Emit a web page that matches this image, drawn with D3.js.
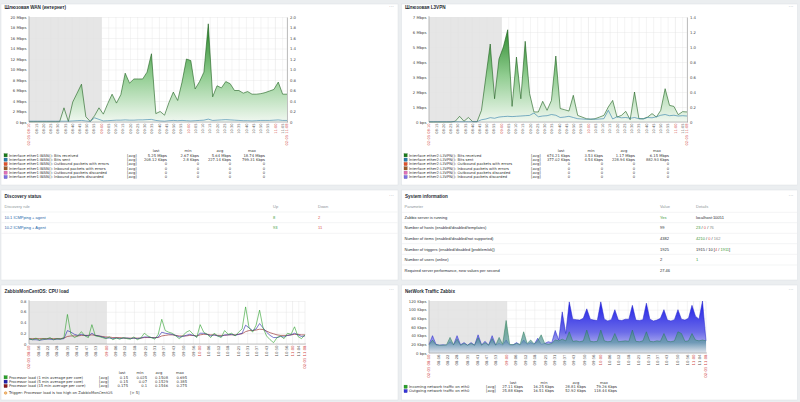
<!DOCTYPE html>
<meta charset="utf-8">
<head>
<style>
  body { margin: 0; background: #ebeef0; overflow: hidden; }
  svg { display: block; }
  .graph text { font-family: "DejaVu Sans", sans-serif; }
  .widget text { font-family: "Liberation Sans", Arial, sans-serif; }
</style>
</head>
<body>
<script src="https://d3js.org/d3.v7.min.js"></script>
<script>
// ---- time range & tick labels ----
const startLabel = "02-05 08:10", endLabel = "02-05 11:08";
const majorTicks = ["09:00", "10:00", "11:00"];
const topMinorTicks = ["08:15","08:20","08:25","08:30","08:35","08:40","08:45","08:50","08:55",
  "09:05","09:10","09:15","09:20","09:25","09:30","09:35","09:40","09:45","09:50","09:55",
  "10:05","10:10","10:15","10:20","10:25","10:30","10:35","10:40","10:45","10:50","10:55","11:05"];
const bottomMinorTicks = ["08:16","08:22","08:28","08:35","08:41","08:47","08:53",
  "09:06","09:12","09:18","09:25","09:31","09:37","09:43","09:50","09:56",
  "10:06","10:12","10:18","10:25","10:31","10:37","10:43","10:50","10:56","11:04"];

// ---- WAN (Mbps) ----
const wanReceived = [0.05,0.05,0.05,0.05,0.05,0.05,0.05,0.05,2.7,0.1,
  3.8,5.5,7.2,1.0,0.1,1.2,2.7,1.5,3.5,5.3,
  3.6,5.2,9.3,7.4,8.2,8.2,8.2,9.5,13.0,1.6,
  2.0,1.3,3.7,5.7,4.1,7.6,12.0,11.7,6.3,7.7,
  9.5,18.7,4.8,6.9,6.5,7.7,7.3,6.0,6.0,5.5,
  5.8,5.3,5.3,5.4,5.6,5.9,6.2,7.6,5.3,5.3];
const wanSent = [0.15,0.15,0.15,0.15,0.15,0.15,0.15,0.15,0.15,0.15,
  0.2,0.25,0.3,0.2,0.1,0.8,0.5,0.2,0.25,0.3,
  0.35,0.35,0.4,0.35,0.35,0.4,0.4,0.45,0.5,0.3,
  0.2,0.15,0.25,0.3,0.25,0.3,0.25,0.2,0.25,0.3,
  0.35,0.55,0.3,0.35,0.4,0.45,0.4,0.35,0.3,0.25,
  0.25,0.2,0.25,0.3,0.3,0.3,0.35,0.4,0.3,0.3];

// ---- L3VPN (Mbps) ----
const vpnReceived = [0,0,0,0,0,0,0.05,0.38,0.05,0.3,
  0.02,0.02,0.78,3.0,5.2,1.55,4.2,5.0,6.15,1.04,
  4.33,1.55,5.38,1.9,0.67,0.67,1.38,0.78,1.44,4.4,
  0.9,0.82,0.73,1.78,0.44,0.33,0.22,0.18,0.22,0.33,
  0.44,1.0,1.44,0.33,0.44,0.71,0.15,2.0,0.22,0.22,
  0.33,0.56,0.33,0.78,2.22,1.11,1.04,0.49,0.69,0.67];
const vpnSent = [0.02,0.02,0.02,0.02,0.02,0.02,0.02,0.02,0.02,0.02,
  0.02,0.02,0.15,0.2,0.29,0.25,0.33,0.36,0.38,0.36,
  0.38,0.4,0.42,0.44,0.6,0.35,0.4,0.42,0.5,0.45,
  0.3,0.33,0.38,0.3,0.22,0.2,0.18,0.2,0.18,0.2,
  0.22,0.78,0.2,0.35,0.28,0.3,0.25,0.3,0.22,0.2,
  0.3,0.28,0.35,0.45,0.5,0.42,0.45,0.4,0.42,0.4];

// ---- CPU load ----
const cpuLoad1 = [0.10,0.08,0.11,0.07,0.10,0.09,0.12,0.08,0.10,0.09,
  0.12,0.55,0.18,0.12,0.15,0.23,0.15,0.12,0.36,0.15,
  0.14,0.12,0.10,0.13,0.08,0.11,0.09,0.12,0.10,0.09,
  0.13,0.08,0.11,0.20,0.15,0.12,0.09,0.18,0.46,0.25,
  0.22,0.20,0.15,0.10,0.15,0.22,0.25,0.18,0.12,0.36,
  0.22,0.18,0.12,0.20,0.15,0.12,0.25,0.18,0.20,0.15,
  0.22,0.28,0.69,0.30,0.22,0.35,0.63,0.30,0.15,0.08,
  0.025,0.12,0.15,0.10,0.20,0.18,0.32,0.14,0.10,0.17];
const cpuLoad5 = [0.09,0.08,0.08,0.07,0.08,0.09,0.09,0.08,0.09,0.09,
  0.10,0.25,0.22,0.18,0.16,0.18,0.16,0.15,0.20,0.16,
  0.15,0.13,0.11,0.11,0.10,0.11,0.10,0.11,0.11,0.10,
  0.11,0.10,0.11,0.13,0.13,0.12,0.11,0.13,0.22,0.20,
  0.19,0.18,0.16,0.13,0.14,0.16,0.18,0.16,0.14,0.20,
  0.20,0.18,0.15,0.17,0.15,0.14,0.17,0.17,0.18,0.16,
  0.18,0.20,0.35,0.30,0.25,0.28,0.38,0.30,0.22,0.16,
  0.12,0.12,0.14,0.13,0.16,0.17,0.20,0.17,0.14,0.15];
const cpuLoad15 = [0.10,0.10,0.10,0.10,0.10,0.10,0.10,0.10,0.10,0.10,
  0.11,0.14,0.15,0.15,0.15,0.16,0.16,0.16,0.17,0.16,
  0.15,0.14,0.13,0.13,0.12,0.12,0.12,0.11,0.11,0.11,
  0.11,0.11,0.11,0.12,0.12,0.12,0.12,0.12,0.15,0.16,
  0.17,0.17,0.16,0.15,0.15,0.15,0.16,0.16,0.15,0.17,
  0.18,0.18,0.17,0.17,0.16,0.16,0.16,0.17,0.17,0.17,
  0.18,0.19,0.23,0.25,0.25,0.26,0.275,0.27,0.24,0.21,
  0.19,0.17,0.16,0.16,0.16,0.17,0.18,0.18,0.17,0.17];

// ---- Network traffic (Kbps) ----
const netOut = [20,40,20,18,19,18,26,19,40,19,
  24,18,24,18,42,19,27,18,40,19,
  22,18,30,18,19,24,18,30,20,24,
  20,34,20,22,26,24,52,30,95,45,
  118,78,77,76,80,102,78,76,75,118,
  78,74,77,100,76,75,78,78,110,76,
  75,77,115,78,74,76,80,100,76,74,
  77,100,78,76,80,110,85,78,120,28];
const netIn = [19,30,19,18,18,19,36,19,32,18,
  22,18,22,18,35,18,24,18,33,18,
  36,20,75,20,19,22,20,49,22,30,
  21,28,42,22,20,22,30,28,32,28,
  49,27,28,26,28,53,27,26,27,53,
  28,26,27,45,26,27,28,27,53,27,
  26,28,49,27,26,28,27,45,27,26,
  28,49,45,27,28,45,30,28,30,28];

// ---- legends ----
const wanLegend = [
  ["Interface ether1-WAN(): Bits received", "5.25 Mbps", "2.67 Kbps", "5.64 Mbps", "18.74 Mbps"],
  ["Interface ether1-WAN(): Bits sent", "208.12 Kbps", "2.8 Kbps", "227.14 Kbps", "799.31 Kbps"],
  ["Interface ether1-WAN(): Outbound packets with errors", "0", "0", "0", "0"],
  ["Interface ether1-WAN(): Inbound packets with errors", "0", "0", "0", "0"],
  ["Interface ether1-WAN(): Outbound packets discarded", "0", "0", "0", "0"],
  ["Interface ether1-WAN(): Inbound packets discarded", "0", "0", "0", "0"]];
const vpnLegend = [
  ["Interface ether2-L3VPN(): Bits received", "674.21 Kbps", "3.53 Kbps", "1.17 Mbps", "6.15 Mbps"],
  ["Interface ether2-L3VPN(): Bits sent", "377.02 Kbps", "4.54 Kbps", "228.94 Kbps", "882.93 Kbps"],
  ["Interface ether2-L3VPN(): Outbound packets with errors", "0", "0", "0", "0"],
  ["Interface ether2-L3VPN(): Inbound packets with errors", "0", "0", "0", "0"],
  ["Interface ether2-L3VPN(): Outbound packets discarded", "0", "0", "0", "0"],
  ["Interface ether2-L3VPN(): Inbound packets discarded", "0", "0", "0", "0"]];
const ifaceColors = ["#1a7a1a", "#2b7ca8", "#e0502a", "#9a5a2a", "#e070b8", "#7a70e0"];
const cpuLegend = [
  ["Processor load (1 min average per core)", "0.15", "0.025", "0.1508", "0.695"],
  ["Processor load (5 min average per core)", "0.15", "0.07", "0.1529", "0.385"],
  ["Processor load (15 min average per core)", "0.175", "0.1", "0.1546", "0.275"]];
const cpuColors = ["#2aa02a", "#2222a8", "#8a1a1a"];
const netLegend = [
  ["Incoming network traffic on eth0", "27.11 Kbps", "16.25 Kbps", "28.81 Kbps", "79.26 Kbps"],
  ["Outgoing network traffic on eth0", "25.88 Kbps", "16.51 Kbps", "52.92 Kbps", "118.44 Kbps"]];
const netColors = ["#2aa02a", "#3434d8"];

// ---- tables ----
const discoveryRows = [["10.1 ICMPping + agent", "8", "2"], ["10.2 ICMPping + Agent", "93", "11"]];
const sysParams = ["Zabbix server is running",
  "Number of hosts (enabled/disabled/templates)",
  "Number of items (enabled/disabled/not supported)",
  "Number of triggers (enabled/disabled [problem/ok])",
  "Number of users (online)",
  "Required server performance, new values per second"];
const sysValues = ["Yes", "99", "4382", "1925", "2", "27.46"];
const sysDetails = [
  [["localhost:10051", "#1f2c33"]],
  [["23", "#3b9a3b"], [" / ", "#1f2c33"], ["0", "#d9534f"], [" / ", "#1f2c33"], ["76", "#8a8a8a"]],
  [["4210", "#3b9a3b"], [" / ", "#1f2c33"], ["0", "#d9534f"], [" / ", "#1f2c33"], ["162", "#8a8a8a"]],
  [["1915 / 10 [", "#1f2c33"], ["4", "#d9534f"], [" / ", "#1f2c33"], ["1911", "#3b9a3b"], ["]", "#1f2c33"]],
  [["1", "#3b9a3b"]],
  []];

// ---------------------------------------------------------------
const parseT = d3.timeParse("%H:%M");
const tStart = parseT("08:10"), tEnd = parseT("11:08");
const sampleTime = (i, n) => new Date(+tStart + (tEnd - tStart) * i / (n - 1));

const svg = d3.select("body").append("svg").attr("width", 800).attr("height", 402);
const defs = svg.append("defs");

function gradient(id, stops, y0, y1) {
  const lg = defs.append("linearGradient").attr("id", id)
    .attr("gradientUnits", "userSpaceOnUse")
    .attr("x1", 0).attr("x2", 0).attr("y1", y0).attr("y2", y1);
  stops.forEach(s => lg.append("stop").attr("offset", s[0]).attr("stop-color", s[1]).attr("stop-opacity", s[2] ?? 1));
}

function panel(p) {
  const g = svg.append("g").attr("class", "widget");
  g.append("rect").attr("x", p.x).attr("y", p.y).attr("width", p.w).attr("height", p.h)
    .attr("fill", "#fff").attr("stroke", "#dce0e3").attr("stroke-width", 0.5);
  g.append("text").attr("x", p.x + 3.5).attr("y", p.ty)
    .attr("font-size", 4.6).attr("font-weight", "bold").attr("fill", "#1f2c33").text(p.title);
  g.append("text").attr("x", p.x + p.w - 4).attr("y", p.ty - 1.5).attr("text-anchor", "end")
    .attr("font-size", 5).attr("fill", "#9aa3a8").text("···");
  return g;
}

function graph(o) {
  const g = svg.append("g").attr("class", "graph");
  const x = d3.scaleTime().domain([tStart, tEnd]).range([o.x0, o.x1]);
  const y = d3.scaleLinear().domain([0, o.yMax]).range([o.y1, o.y0]);

  // non-working time
  g.append("rect").attr("x", x(tStart)).attr("y", o.y0)
    .attr("width", x(parseT("09:00")) - x(tStart)).attr("height", o.y1 - o.y0)
    .attr("fill", "#e6e6e6");

  // ticks
  const ticks = o.minor.map(t => ({t: parseT(t), label: t, major: false}))
    .concat(majorTicks.map(t => ({t: parseT(t), label: t, major: true})))
    .concat([{t: tStart, label: startLabel, major: true}, {t: tEnd, label: endLabel, major: true}]);

  g.append("g").selectAll("line").data(ticks).join("line")
    .attr("x1", d => x(d.t)).attr("x2", d => x(d.t)).attr("y1", o.y0).attr("y2", o.y1)
    .attr("stroke", d => d.major ? "#d9d9d9" : "#e4e4e4").attr("stroke-width", 0.4);

  const yAxis = g.append("g").attr("transform", `translate(${o.x0},0)`)
    .call(d3.axisLeft(y).tickValues(o.yTicks).tickSize(-(o.x1 - o.x0)).tickPadding(2.5)
      .tickFormat((d, i) => o.yLabels[i]));
  yAxis.select(".domain").remove();
  yAxis.selectAll(".tick line").attr("stroke", "#e2e2e2").attr("stroke-width", 0.4);
  yAxis.selectAll(".tick text").attr("font-size", o.fs).attr("fill", "#444").attr("font-family", "DejaVu Sans");

  if (o.rMax) {
    const yr = d3.scaleLinear().domain([0, o.rMax]).range([o.y1, o.y0]);
    const rAxis = g.append("g").attr("transform", `translate(${o.x1},0)`)
      .call(d3.axisRight(yr).tickValues(o.rTicks).tickSize(0).tickPadding(3)
        .tickFormat((d, i) => o.rLabels[i]));
    rAxis.select(".domain").attr("stroke", "#888").attr("stroke-width", 0.5);
    rAxis.selectAll(".tick text").attr("font-size", o.fs).attr("fill", "#444").attr("font-family", "DejaVu Sans");
  }

  // series
  (o.areas || []).forEach(s => {
    const n = s.values.length;
    g.append("path").datum(s.values)
      .attr("fill", `url(#${s.grad})`).attr("fill-opacity", s.opacity ?? 1)
      .attr("d", d3.area().x((d, i) => x(sampleTime(i, n))).y0(o.y1).y1(d => y(d)));
    g.append("path").datum(s.values)
      .attr("fill", "none").attr("stroke", s.stroke).attr("stroke-width", s.sw ?? 0.6)
      .attr("d", d3.line().x((d, i) => x(sampleTime(i, n))).y(d => y(d)));
  });
  (o.lines || []).forEach(s => {
    const n = s.values.length;
    g.append("path").datum(s.values)
      .attr("fill", "none").attr("stroke", s.stroke).attr("stroke-width", s.sw ?? 0.6)
      .attr("stroke-linejoin", "round")
      .attr("d", d3.line().x((d, i) => x(sampleTime(i, n))).y(d => y(d)));
  });

  // axes lines
  g.append("line").attr("x1", o.x0).attr("x2", o.x0).attr("y1", o.y0 - 1).attr("y2", o.y1)
    .attr("stroke", "#888").attr("stroke-width", 0.5);
  g.append("line").attr("x1", o.x0).attr("x2", o.x1 + 1).attr("y1", o.y1).attr("y2", o.y1)
    .attr("stroke", "#888").attr("stroke-width", 0.5);

  // x labels (vertical)
  g.append("g").selectAll("text").data(ticks).join("text")
    .attr("transform", d => `translate(${x(d.t)},${o.y1 + 1.5}) rotate(-90)`)
    .attr("text-anchor", "end").attr("dy", "0.35em")
    .attr("font-size", o.fx).attr("fill", d => d.major ? "#d04848" : "#555")
    .text(d => d.label);
  return g;
}

function legend(o) {
  const g = svg.append("g").attr("class", "graph");
  const heads = ["last", "min", "avg", "max"];
  heads.forEach((h, i) => g.append("text").attr("x", o.hx[i]).attr("y", o.y0 - o.dy + 1.3)
    .attr("text-anchor", "middle").attr("font-size", o.fs).attr("fill", "#333").text(h));
  o.rows.forEach((r, j) => {
    const yy = o.y0 + j * o.dy;
    g.append("rect").attr("x", o.x).attr("y", yy - 1.6).attr("width", 3.2).attr("height", 3.2)
      .attr("fill", o.colors[j]).attr("stroke", d3.color(o.colors[j]).darker(0.8)).attr("stroke-width", 0.3);
    g.append("text").attr("x", o.x + 5).attr("y", yy + 1.3).attr("font-size", o.fs).attr("fill", "#333").text(r[0]);
    g.append("text").attr("x", o.ax).attr("y", yy + 1.3).attr("font-size", o.fs).attr("fill", "#333").text("[avg]");
    for (let i = 1; i <= 4; i++) {
      g.append("text").attr("x", o.cx[i - 1]).attr("y", yy + 1.3).attr("text-anchor", "end")
        .attr("font-size", o.fs).attr("fill", "#333").text(r[i]);
    }
  });
  return g;
}

// ---- panels ----
panel({x: 1, y: 4, w: 397, h: 181, ty: 9, title: "Шлюзовая WAN (интернет)"});
panel({x: 401.5, y: 4, w: 396, h: 181, ty: 9, title: "Шлюзовая L3VPN"});
panel({x: 1, y: 190, w: 397, h: 90, ty: 198.3, title: "Discovery status"});
panel({x: 401.5, y: 190, w: 396, h: 90, ty: 198.3, title: "System information"});
panel({x: 1, y: 285, w: 397, h: 115, ty: 292.6, title: "ZabbixMonCentOS: CPU load"});
panel({x: 401.5, y: 285, w: 396, h: 115, ty: 292.6, title: "NetWork Traffic Zabbix"});

// gradients
gradient("gWan", [[0, "#137813"], [0.55, "#8fcc8f"], [1, "#f1f8f1"]], 17, 122);
gradient("gVpn", [[0, "#137813"], [0.55, "#8fcc8f"], [1, "#f1f8f1"]], 17, 122);
gradient("gOut", [[0, "#1c1ce8"], [0.6, "#6c6ce8"], [1, "#d8d8f2"]], 301, 353);
gradient("gIn", [[0, "#2a9a2a"], [0.55, "#3f8f78"], [0.8, "#5a96a0"], [1, "#e6ecec"]], 301, 353);

// WAN
graph({x0: 29, x1: 287, y0: 17, y1: 122, yMax: 20, fs: 3.8, fx: 3.6,
  yTicks: d3.range(0, 21, 2), yLabels: ["0 bps", "2 Mbps", "4 Mbps", "6 Mbps", "8 Mbps", "10 Mbps", "12 Mbps", "14 Mbps", "16 Mbps", "18 Mbps", "20 Mbps"],
  rMax: 2, rTicks: d3.range(0, 2.01, 0.2), rLabels: ["0", "0.2", "0.4", "0.6", "0.8", "1.0", "1.2", "1.4", "1.6", "1.8", "2.0"],
  minor: topMinorTicks,
  areas: [{values: wanReceived, grad: "gWan", stroke: "#1b5e1b"}],
  lines: [{values: wanSent, stroke: "#2b7ca8", sw: 0.6}]});
legend({x: 4, y0: 155.3, dy: 4.35, fs: 3.7, ax: 127, cx: [167, 199, 231, 265], hx: [156, 188, 220, 252],
  rows: wanLegend, colors: ifaceColors});

// L3VPN
graph({x0: 429, x1: 687, y0: 17, y1: 122, yMax: 7, fs: 3.8, fx: 3.6,
  yTicks: d3.range(0, 8), yLabels: ["0 bps", "1 Mbps", "2 Mbps", "3 Mbps", "4 Mbps", "5 Mbps", "6 Mbps", "7 Mbps"],
  rMax: 1.4, rTicks: d3.range(0, 1.41, 0.2), rLabels: ["0", "0.2", "0.4", "0.6", "0.8", "1.0", "1.2", "1.4"],
  minor: topMinorTicks,
  areas: [{values: vpnReceived, grad: "gVpn", stroke: "#1b5e1b"}],
  lines: [{values: vpnSent, stroke: "#2b7ca8", sw: 0.6}]});
legend({x: 404, y0: 155.3, dy: 4.35, fs: 3.7, ax: 531, cx: [570, 603, 635, 669], hx: [561, 591, 624, 657],
  rows: vpnLegend, colors: ifaceColors});

// CPU
graph({x0: 29, x1: 305, y0: 301, y1: 344, yMax: 0.8, fs: 3.8, fx: 3.8,
  yTicks: [0, 0.2, 0.4, 0.6, 0.8], yLabels: ["0", "0.2", "0.4", "0.6", "0.8"],
  minor: bottomMinorTicks,
  lines: [{values: cpuLoad15, stroke: "#8a1a1a", sw: 0.6},
          {values: cpuLoad5, stroke: "#2222a8", sw: 0.6},
          {values: cpuLoad1, stroke: "#2aa02a", sw: 0.6}]});
legend({x: 4, y0: 377.3, dy: 4.35, fs: 3.7, ax: 99, cx: [128, 147, 168, 187], hx: [122, 140, 159, 180],
  rows: cpuLegend, colors: cpuColors});
{
  const g = svg.append("g").attr("class", "graph");
  g.append("circle").attr("cx", 5.6).attr("cy", 393).attr("r", 1.3)
    .attr("fill", "#f4c07a").attr("stroke", "#d9822b").attr("stroke-width", 0.5);
  g.append("text").attr("x", 9).attr("y", 394.3).attr("font-size", 3.7).attr("fill", "#333")
    .text("Trigger: Processor load is too high on ZabbixMonCentOS");
  g.append("text").attr("x", 130).attr("y", 394.3).attr("font-size", 3.7).attr("fill", "#333").text("[> 5]");
}

// Network
graph({x0: 429, x1: 706, y0: 301, y1: 353, yMax: 120, fs: 3.8, fx: 3.8,
  yTicks: d3.range(0, 121, 20), yLabels: ["0 bps", "20 Kbps", "40 Kbps", "60 Kbps", "80 Kbps", "100 Kbps", "120 Kbps"],
  minor: bottomMinorTicks,
  areas: [{values: netOut, grad: "gOut", stroke: "#2222c8", sw: 0.5},
          {values: netIn, grad: "gIn", stroke: "#2a7a5a", sw: 0.5, opacity: 0.7}]});
legend({x: 404, y0: 386.7, dy: 4.35, fs: 3.7, ax: 486, cx: [523, 554, 586, 617], hx: [513, 544, 576, 604],
  rows: netLegend, colors: netColors});

// ---- Discovery status table ----
{
  const g = svg.append("g").attr("class", "widget");
  const fs = 4;
  const cols = [4.5, 273, 318];
  ["Discovery rule", "Up", "Down"].forEach((h, i) =>
    g.append("text").attr("x", cols[i]).attr("y", 208.4).attr("font-size", fs).attr("fill", "#8c959a").text(h));
  [212, 222.7, 233.3].forEach(ly => g.append("line").attr("x1", 1.5).attr("x2", 397.5)
    .attr("y1", ly).attr("y2", ly).attr("stroke", "#e6e9eb").attr("stroke-width", 0.5));
  discoveryRows.forEach((r, j) => {
    const yy = 218.7 + j * 10.6;
    g.append("text").attr("x", cols[0]).attr("y", yy).attr("font-size", fs).attr("fill", "#1f65a8").text(r[0]);
    g.append("text").attr("x", cols[1]).attr("y", yy).attr("font-size", fs).attr("fill", "#3b9a3b").text(r[1]);
    g.append("text").attr("x", cols[2]).attr("y", yy).attr("font-size", fs).attr("fill", "#d9534f").text(r[2]);
  });
}

// ---- System information table ----
{
  const g = svg.append("g").attr("class", "widget");
  const fs = 4;
  const cols = [404.5, 660, 696];
  ["Parameter", "Value", "Details"].forEach((h, i) =>
    g.append("text").attr("x", cols[i]).attr("y", 208.4).attr("font-size", fs).attr("fill", "#8c959a").text(h));
  [212.3, 222.7, 233.3, 243.7, 254.3, 265].forEach(ly => g.append("line").attr("x1", 402).attr("x2", 797)
    .attr("y1", ly).attr("y2", ly).attr("stroke", "#e6e9eb").attr("stroke-width", 0.5));
  sysParams.forEach((p, j) => {
    const yy = 218.7 + j * 10.6;
    g.append("text").attr("x", cols[0]).attr("y", yy).attr("font-size", fs).attr("fill", "#1f2c33").text(p);
    g.append("text").attr("x", cols[1]).attr("y", yy).attr("font-size", fs)
      .attr("fill", j === 0 ? "#3b9a3b" : "#1f2c33").text(sysValues[j]);
    const t = g.append("text").attr("x", cols[2]).attr("y", yy).attr("font-size", fs);
    sysDetails[j].forEach(part => t.append("tspan").attr("fill", part[1]).text(part[0]));
  });
}
</script>
</body>
